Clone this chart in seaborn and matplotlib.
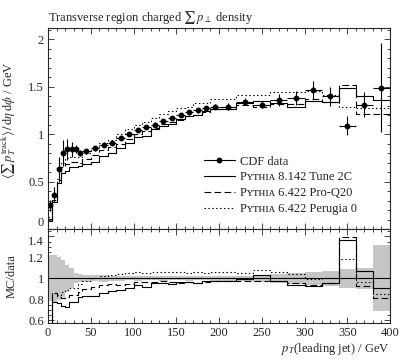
import numpy as np
import pandas as pd
import matplotlib
matplotlib.use("Agg")
import matplotlib.pyplot as plt
from matplotlib.lines import Line2D
from matplotlib.ticker import MultipleLocator
import seaborn as sns

# ---------------- data ----------------
bin_edges = [0, 5, 10, 15, 20, 25, 30, 35, 40, 50, 60, 70, 80, 90, 100, 110, 120,
             130, 140, 150, 160, 170, 180, 190, 200, 220, 240, 260, 280, 300, 320,
             340, 360, 380, 400]

cdf_data = [0.25, 0.36, 0.63, 0.80, 0.84, 0.84, 0.84, 0.80, 0.82, 0.85, 0.89, 0.91,
            0.96, 1.00, 1.04, 1.07, 1.10, 1.14, 1.17, 1.20, 1.23, 1.25, 1.27, 1.29,
            1.29, 1.34, 1.31, 1.36, 1.38, 1.46, 1.40, 1.09, 1.31, 1.49]
cdf_err = [0.055, 0.08, 0.13, 0.14, 0.11, 0.08, 0.04, 0.03, 0.025, 0.025, 0.027,
           0.023, 0.024, 0.02, 0.021, 0.021, 0.022, 0.023, 0.023, 0.024, 0.025,
           0.025, 0.025, 0.026, 0.032, 0.035, 0.04, 0.06, 0.07, 0.095, 0.10, 0.10,
           0.13, 0.47]

py8_tune2c = [0.09, 0.28, 0.48, 0.59, 0.61, 0.65, 0.65, 0.66, 0.68, 0.71, 0.77, 0.80,
              0.85, 0.91, 0.97, 0.98, 1.05, 1.09, 1.11, 1.16, 1.19, 1.20, 1.24, 1.26,
              1.26, 1.33, 1.35, 1.33, 1.29, 1.35, 1.34, 1.49, 1.40, 1.36]
py6_proq20 = [0.11, 0.31, 0.52, 0.65, 0.69, 0.71, 0.71, 0.70, 0.74, 0.78, 0.83, 0.86,
              0.90, 0.95, 1.00, 1.03, 1.06, 1.11, 1.13, 1.15, 1.19, 1.20, 1.23, 1.26,
              1.26, 1.31, 1.28, 1.32, 1.32, 1.37, 1.34, 1.52, 1.21, 1.21]
py6_perugia0 = [0.13, 0.31, 0.53, 0.70, 0.75, 0.76, 0.76, 0.76, 0.80, 0.85, 0.91, 0.94,
                1.00, 1.05, 1.10, 1.13, 1.17, 1.21, 1.24, 1.27, 1.29, 1.33, 1.33, 1.37,
                1.37, 1.41, 1.41, 1.44, 1.44, 1.45, 1.41, 1.29, 1.27, 1.27]

labels = ["CDF data",
          "P\u028f\u1d1b\u029c\u026a\u1d00 8.142 Tune 2C",
          "P\u028f\u1d1b\u029c\u026a\u1d00 6.422 Pro-Q20",
          "P\u028f\u1d1b\u029c\u026a\u1d00 6.422 Perugia 0"]

# ---------------- style ----------------
sns.set_style("ticks")
plt.rcParams["font.family"] = ["Liberation Serif", "DejaVu Serif"]
plt.rcParams["mathtext.fontset"] = "stix"
FS = 9
plt.rcParams["font.size"] = FS
plt.rcParams["axes.linewidth"] = 0.8

edges = np.array(bin_edges, dtype=float)
centers = 0.5 * (edges[:-1] + edges[1:])
halfw = 0.5 * (edges[1:] - edges[:-1])
data = np.array(cdf_data)
err = np.array(cdf_err)

mc = {
    "py8": (np.array(py8_tune2c), "-"),
    "q20": (np.array(py6_proq20), (0, (6, 3))),
    "p0": (np.array(py6_perugia0), (0, (1.3, 2.2))),
}

fig = plt.figure(figsize=(4.01, 3.63), dpi=100)
ax = fig.add_axes([0.1197, 0.369, 0.8529, 0.554])
axr = fig.add_axes([0.1197, 0.1102, 0.8529, 0.2588], sharex=ax)

def step_df(vals):
    return pd.DataFrame({"x": edges, "y": np.append(vals, vals[-1])})

# main panel
for key, (vals, ls) in mc.items():
    df = step_df(vals)
    sns.lineplot(data=df, x="x", y="y", ax=ax, drawstyle="steps-post",
                 color="black", lw=0.8, linestyle=ls, estimator=None, sort=False)
ax.errorbar(centers, data, yerr=err, xerr=halfw, fmt="o", color="black",
            ms=3.2, lw=0.8, capsize=0, zorder=5)

ax.set_xlim(0, 400)
ax.set_ylim(0, 2.117)
ax.set_xlabel("")
ax.set_ylabel(r"$\langle\sum\, p_T^{\mathrm{track}}\rangle\,/\,\mathrm{d}\eta\,\mathrm{d}\phi$ / GeV")
ax.yaxis.set_label_coords(-0.088, 0.54)
ax.yaxis.set_minor_locator(MultipleLocator(0.1))
ax.set_yticks([0, 0.5, 1, 1.5, 2])
ax.set_yticklabels(["0", "0.5", "1", "1.5", "2"])
ax.tick_params(labelbottom=False)
ax.set_title(r"Transverse region charged $\sum\, p_\perp$ density", loc="left",
             fontsize=FS, pad=5)

handles = [Line2D([], [], color="black", marker="o", ms=3.2, lw=0.8),
           Line2D([], [], color="black", lw=0.8, linestyle="-"),
           Line2D([], [], color="black", lw=0.8, linestyle=(0, (6, 3))),
           Line2D([], [], color="black", lw=0.8, linestyle=(0, (1.3, 2.2)))]
ax.legend(handles, labels, loc="lower left", bbox_to_anchor=(0.455, 0.07),
          frameon=False, fontsize=FS, handlelength=2.5, labelspacing=0.3,
          handletextpad=0.45, borderaxespad=0, borderpad=0)

# ratio panel
rel = err / data
axr.fill_between(edges, np.append(1 - rel, 1 - rel[-1]), np.append(1 + rel, 1 + rel[-1]),
                 step="post", color="#c6c6c6", lw=0, zorder=1)
axr.axhline(1.0, color="black", lw=0.8, zorder=3)
for key, (vals, ls) in mc.items():
    df = step_df(vals / data)
    sns.lineplot(data=df, x="x", y="y", ax=axr, drawstyle="steps-post",
                 color="black", lw=0.8, linestyle=ls, estimator=None, sort=False,
                 zorder=4)
axr.set_xlim(0, 400)
axr.set_ylim(0.575, 1.47)
axr.set_yticks([0.6, 0.8, 1.0, 1.2, 1.4])
axr.set_yticklabels(["0.6", "0.8", "1", "1.2", "1.4"])
axr.yaxis.set_minor_locator(MultipleLocator(0.05))
axr.set_xticks([0, 50, 100, 150, 200, 250, 300, 350, 400])
axr.xaxis.set_minor_locator(MultipleLocator(10))
axr.set_ylabel("MC/data")
axr.yaxis.set_label_coords(-0.088, 0.5)
axr.set_xlabel(r"$p_T$(leading jet) / GeV", loc="right", labelpad=1)

for a in (ax, axr):
    a.tick_params(which="both", direction="in", top=True, right=True, labelsize=FS, pad=3)
    a.tick_params(which="major", length=4.5, width=0.6)
    a.tick_params(which="minor", length=2.5, width=0.6)
    for s in a.spines.values():
        s.set_linewidth(0.8)

# keep the stacked "0" and "1.4" labels from colliding
ax.get_yticklabels()[0].set_va("bottom")
axr.get_yticklabels()[-1].set_va("top")

fig.savefig("out.png", dpi=100)
